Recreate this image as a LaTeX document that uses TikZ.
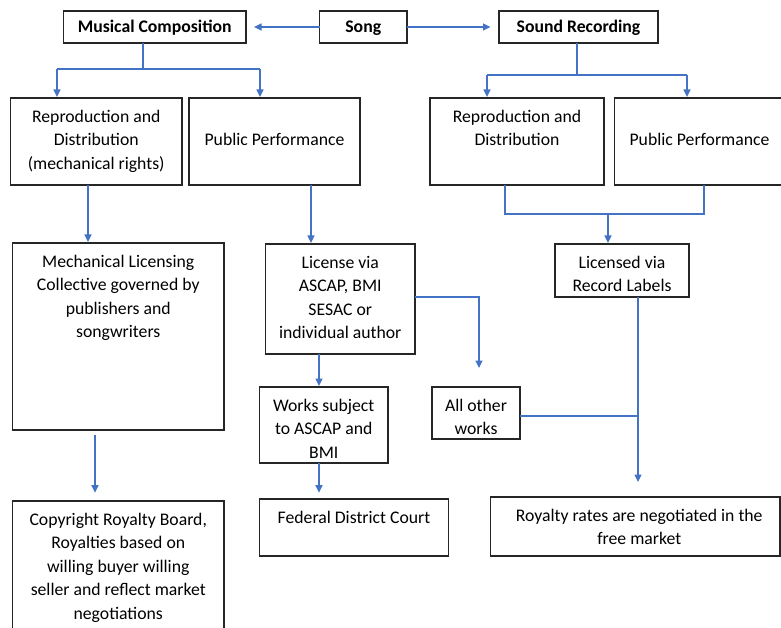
\documentclass[tikz,border=0pt]{standalone}
\usepackage{fontspec}
\setmainfont{Carlito}
\usetikzlibrary{arrows.meta}
\definecolor{linkblue}{HTML}{4472C4}
\begin{document}
\begin{tikzpicture}[x=1pt,y=-1pt,
  every node/.style={inner sep=0pt, outer sep=0pt},
  box/.style={draw=black!85, line width=1.2pt, fill=white, anchor=north west},
  lbl/.style={anchor=north, align=center, yshift=-8pt,
    font=\fontsize{17.7}{23.5}\selectfont},
  title/.style={box, text height=14.5pt, text depth=2.5pt,
    font=\bfseries\fontsize{17.7}{21}\selectfont},
  link/.style={draw=linkblue, line width=1.3pt},
  arr/.style={link, -{Triangle[length=7.5pt,width=7pt]}},
]
\useasboundingbox (0,0) rectangle (781,628);

% top row
\node[title, minimum width=182.5pt, minimum height=32pt] (mc) at (63.5,11) {Musical Composition};
\node[title, minimum width=87.5pt, minimum height=32pt] (song) at (319.5,11) {Song};
\node[title, minimum width=159pt, minimum height=32pt] (sr) at (499,11) {Sound Recording};

% rights
\node[box, minimum width=171.5pt, minimum height=87pt,
  label={[lbl]north:\strut Reproduction and\\Distribution\\(mechanical rights)}] (rd1) at (10.5,98) {};
\node[box, minimum width=171pt, minimum height=87pt,
  label={[lbl, yshift=-23.5pt]north:\strut Public Performance}] (pp1) at (189,98) {};
\node[box, minimum width=174pt, minimum height=87pt,
  label={[lbl]north:\strut Reproduction and\\Distribution}] (rd2) at (430,98) {};
\node[box, minimum width=170pt, minimum height=87pt,
  label={[lbl, yshift=-23.5pt]north:\strut Public Performance}] (pp2) at (614.5,98) {};

% licensing
\node[box, minimum width=211.5pt, minimum height=187pt,
  label={[lbl]north:\strut Mechanical Licensing\\Collective governed by\\publishers and\\songwriters}] (mlc) at (12.5,243) {};
\node[box, minimum width=149.5pt, minimum height=110pt,
  label={[lbl]north:\strut License via\\ASCAP, BMI\\SESAC or\\individual author}] (lic) at (265.5,244) {};
\node[box, minimum width=134pt, minimum height=53pt,
  label={[lbl]north:\strut Licensed via\\Record Labels}] (lrl) at (555,244) {};
\node[box, minimum width=128.5pt, minimum height=76pt,
  label={[lbl]north:\strut Works subject\\to ASCAP and\\BMI}] (wsa) at (259.5,387) {};
\node[box, minimum width=88pt, minimum height=52pt,
  label={[lbl]north:\strut All other\\works}] (aow) at (432,387) {};

% rate setting
\node[box, minimum width=211.5pt, minimum height=140pt,
  label={[lbl]north:\strut Copyright Royalty Board,\\Royalties based on\\willing buyer willing\\seller and reflect market\\negotiations}] (crb) at (12.5,501) {};
\node[box, minimum width=189pt, minimum height=57pt,
  label={[lbl]north:\strut Federal District Court}] (fdc) at (259.5,499) {};
\node[box, minimum width=289.5pt, minimum height=59pt,
  label={[lbl, xshift=4pt]north:\strut Royalty rates are negotiated in the\\free market}] (rr) at (490.5,497) {};

% bends and free ends
\coordinate (mcj) at (143,69);
\coordinate (mcl) at (57,69);
\coordinate (mcr) at (260,69);
\coordinate (srj) at (577,75);
\coordinate (srl) at (487,75);
\coordinate (srr) at (687,75);
\coordinate (rdl) at (505,214);
\coordinate (rdr) at (704,214);
\coordinate (rdj) at (608,214);
\coordinate (mlx) at (88,0);
\coordinate (ppx) at (311,0);
\coordinate (licx) at (319,0);
\coordinate (licb) at (479,297);
\coordinate (lice) at (479,368);
\coordinate (lrle) at (638,482);
\coordinate (aowj) at (638,416);
\coordinate (mlcs) at (95,435);
\coordinate (mlce) at (95,492.7);
\coordinate (wsae) at (319,492.7);

% connectors
\draw[arr, shorten >=8pt] (song.west) -- (mc.east);
\draw[arr, shorten >=8.5pt] (song.east) -- (sr.west);

\draw[link] (mc.south -| mcj) -- (mcj);
\draw[link] (mcl) -- (mcr);
\draw[arr, shorten >=1pt] (mcl) -- (rd1.north -| mcl);
\draw[arr, shorten >=1pt] (mcr) -- (pp1.north -| mcr);

\draw[link] (sr.south -| srj) -- (srj);
\draw[link] (srl) -- (srr);
\draw[arr, shorten >=1pt] (srl) -- (rd2.north -| srl);
\draw[arr, shorten >=1pt] (srr) -- (pp2.north -| srr);

\draw[arr, shorten >=1pt] (rd1.south -| mlx) -- (mlc.north -| mlx);
\draw[arr, shorten >=1pt] (pp1.south -| ppx) -- (lic.north -| ppx);

\draw[link] (rd2.south -| rdl) -- (rdl) -- (rdr) -- (pp2.south -| rdr);
\draw[arr, shorten >=1pt] (rdj) -- (lrl.north -| rdj);

\draw[arr] (lic.east |- licb) -- (licb) -- (lice);
\draw[arr, shorten >=1pt] (lic.south -| licx) -- (wsa.north -| licx);
\draw[arr] (lrl.south -| lrle) -- (lrle);
\draw[link] (aow.east |- aowj) -- (aowj);

\draw[arr] (mlcs) -- (mlce);
\draw[arr] (wsa.south -| licx) -- (wsae);
\end{tikzpicture}
\end{document}
